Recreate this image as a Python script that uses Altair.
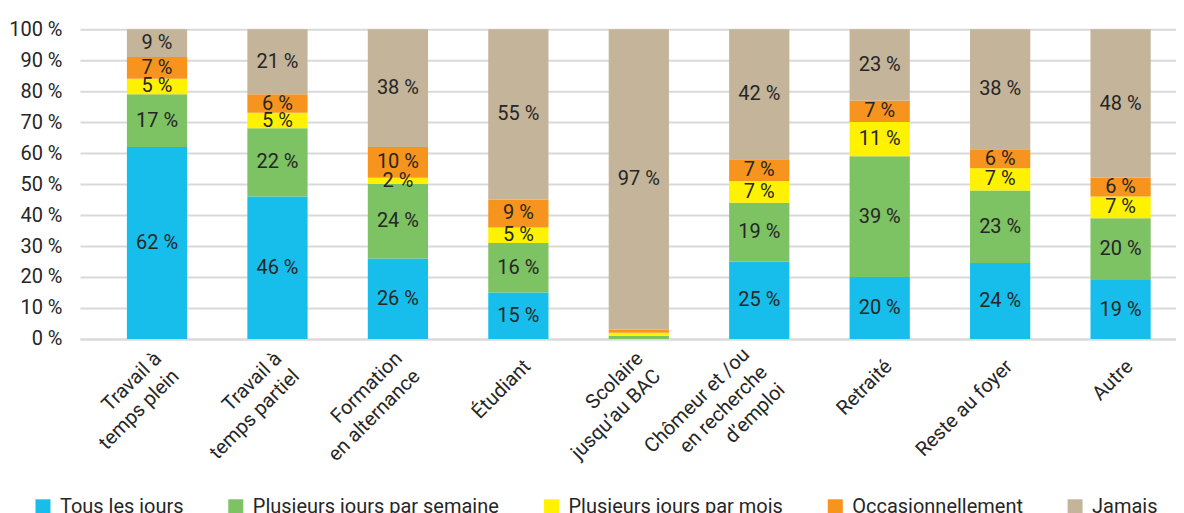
import altair as alt
import pandas as pd

categories = [
    "Travail à\ntemps plein",
    "Travail à\ntemps partiel",
    "Formation\nen alternance",
    "Étudiant",
    "Scolaire\njusqu’au BAC",
    "Chômeur et /ou\nen recherche\nd’emploi",
    "Retraité",
    "Reste au foyer",
    "Autre",
]
series = [
    "Tous les jours",
    "Plusieurs jours par semaine",
    "Plusieurs jours par mois",
    "Occasionnellement",
    "Jamais",
]
tous_les_jours = [62, 46, 26, 15, 0, 25, 20, 24, 19]
par_semaine = [17, 22, 24, 16, 1, 19, 39, 23, 20]
par_mois = [5, 5, 2, 5, 1, 7, 11, 7, 7]
occasionnellement = [7, 6, 10, 9, 1, 7, 7, 6, 6]
jamais = [9, 21, 38, 55, 97, 42, 23, 38, 48]
colors = ["#17BEEB", "#7DC263", "#FFF200", "#F7941E", "#C4B49A"]
y_ticks = [0, 0.1, 0.2, 0.3, 0.4, 0.5, 0.6, 0.7, 0.8, 0.9, 1.0]

all_series = [tous_les_jours, par_semaine, par_mois, occasionnellement, jamais]
rows = []
for i, cat in enumerate(categories):
    for j, s in enumerate(series):
        rows.append({"cat": cat, "series": s, "order": j, "value": all_series[j][i]})
df = pd.DataFrame(rows)

FONT = "Roboto"
TXT = "#262626"
FS = 20

base = (
    alt.Chart(df)
    .transform_stack(
        stack="value",
        groupby=["cat"],
        as_=["y0", "y1"],
        offset="normalize",
        sort=[alt.SortField("order", order="ascending")],
    )
    .transform_calculate(mid="(datum.y0 + datum.y1) / 2", label="datum.value + ' %'")
)

N_LINES = "length(split(datum.value, '\\n'))"

x_scale = alt.Scale(paddingInner=0.5, paddingOuter=0.3, align=0.65)
x_axis = alt.Axis(
    labelAngle=-45,
    labelAlign="right",
    labelBaseline="top",
    labelExpr="split(datum.label, '\\n')",
    labelFontSize=FS,
    labelColor=TXT,
    labelPadding={
        "condition": [
            {"test": N_LINES + " == 3", "value": 5},
            {"test": N_LINES + " == 2", "value": 9},
        ],
        "value": 17,
    },
    labelOffset={
        "condition": [
            {"test": N_LINES + " == 3", "value": -20},
            {"test": N_LINES + " == 2", "value": -6},
        ],
        "value": 2,
    },
    labelLineHeight=25,
    labelLimit=400,
    labelOverlap=False,
    ticks=False,
    domain=True,
    domainColor="#d9d9d9",
    domainWidth=2,
)
y_scale = alt.Scale(domain=[0, 1], nice=False)
y_axis = alt.Axis(
    values=y_ticks,
    labelExpr="format(datum.value * 100, 'd') + ' %'",
    labelFontSize=FS,
    labelColor=TXT,
    labelPadding=18,
    labelOverlap=False,
    domain=False,
    ticks=False,
    grid=True,
    gridColor="#d9d9d9",
    gridWidth=2,
)

bars = base.mark_bar().encode(
    x=alt.X("cat:N", sort=categories, title=None, scale=x_scale, axis=x_axis),
    y=alt.Y("y0:Q", title=None, scale=y_scale, axis=y_axis),
    y2="y1:Q",
    color=alt.Color(
        "series:N",
        scale=alt.Scale(domain=series, range=colors),
        legend=alt.Legend(
            title=None,
            orient="none",
            legendX=-47,
            legendY=468,
            direction="horizontal",
            columns=5,
            symbolType="square",
            symbolSize=225,
            symbolStrokeWidth=0,
            labelFontSize=FS,
            labelColor=TXT,
            labelOffset=7,
            labelLimit=400,
            columnPadding=42,
        ),
    ),
)

text = base.transform_filter("datum.value >= 2").mark_text(
    fontSize=FS, color=TXT, font=FONT
).encode(
    x=alt.X("cat:N", sort=categories, title=None, scale=x_scale, axis=x_axis),
    y=alt.Y("mid:Q", title=None, scale=y_scale, axis=y_axis),
    text="label:N",
)

chart = (
    alt.layer(bars, text)
    .properties(width=1097, height=310, padding={"left": 0, "top": 11, "right": 0, "bottom": 0})
    .configure(font=FONT)
    .configure_view(strokeWidth=0)
)

chart.save("out.html", embed_options={"renderer": "svg", "actions": False})
